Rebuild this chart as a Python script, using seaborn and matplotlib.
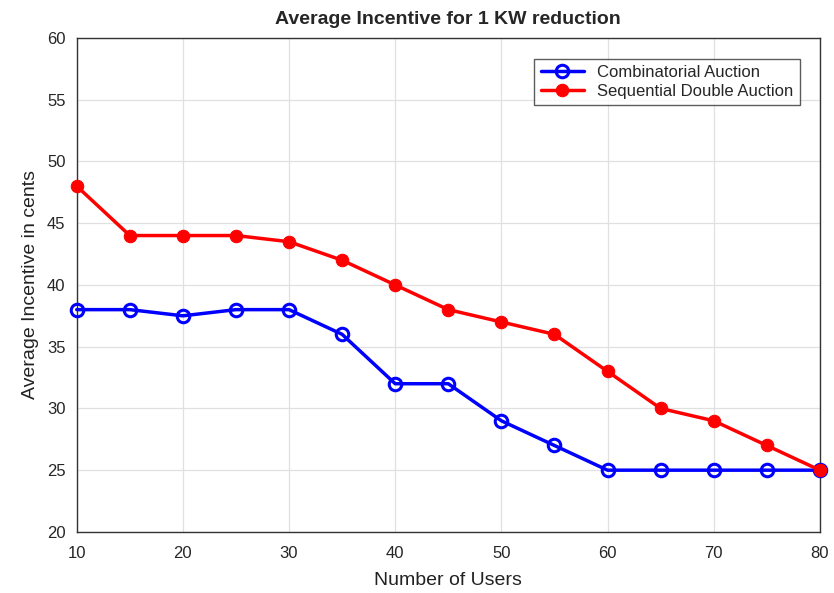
import numpy as np
import pandas as pd
import matplotlib
matplotlib.use("Agg")
import matplotlib.pyplot as plt
import seaborn as sns

# data
users = [10, 15, 20, 25, 30, 35, 40, 45, 50, 55, 60, 65, 70, 75, 80]
combinatorial = [38, 38, 37.5, 38, 38, 36, 32, 32, 29, 27, 25, 25, 25, 25, 25]
sequential = [48, 44, 44, 44, 43.5, 42, 40, 38, 37, 36, 33, 30, 29, 27, 25]

df = pd.DataFrame({
    "users": users * 2,
    "incentive": combinatorial + sequential,
    "method": ["Combinatorial Auction"] * len(users) + ["Sequential Double Auction"] * len(users),
})

sns.set_style("whitegrid")
plt.rcParams["font.family"] = ["Liberation Sans", "DejaVu Sans"]

fig = plt.figure(figsize=(8.34, 5.93), dpi=100)
ax = fig.add_axes([0.092, 0.103, 0.891, 0.833])

sns.lineplot(data=df[df.method == "Combinatorial Auction"], x="users", y="incentive",
             color="#0000ff", linewidth=2.5, marker="o", markersize=9,
             markerfacecolor="none", markeredgecolor="#0000ff", markeredgewidth=2.2,
             label="Combinatorial Auction", ax=ax, clip_on=False, zorder=5)
sns.lineplot(data=df[df.method == "Sequential Double Auction"], x="users", y="incentive",
             color="#ff0000", linewidth=2.5, marker="o", markersize=9,
             markerfacecolor="#ff0000", markeredgecolor="#ff0000",
             label="Sequential Double Auction", ax=ax, clip_on=False, zorder=6)

ax.set_xlim(10, 80)
ax.set_ylim(20, 60)
ax.set_xticks(range(10, 81, 10))
ax.set_yticks(range(20, 61, 5))
ax.grid(True, color="#e0e0e0", linewidth=0.9)
for s in ax.spines.values():
    s.set_color("#333333")
    s.set_linewidth(1.0)
ax.tick_params(direction="in", length=4, color="#333333", labelsize=12, labelcolor="#262626")
ax.tick_params(axis="x", pad=10)
ax.tick_params(axis="y", pad=8)

ax.set_xlabel("Number of Users", fontsize=14, color="#222222", labelpad=8)
ax.set_ylabel("Average Incentive in cents", fontsize=14, color="#222222", labelpad=6)
ax.set_title("Average Incentive for 1 KW reduction", fontsize=14, fontweight="bold", pad=10)

leg = ax.legend(loc="upper right", bbox_to_anchor=(0.985, 0.975), fontsize=12,
                frameon=True, fancybox=False, handlelength=2.6, borderpad=0.4,
                labelspacing=0.2)
leg.get_frame().set_edgecolor("#333333")
leg.get_frame().set_linewidth(1.0)

fig.savefig("out.png", dpi=100)
